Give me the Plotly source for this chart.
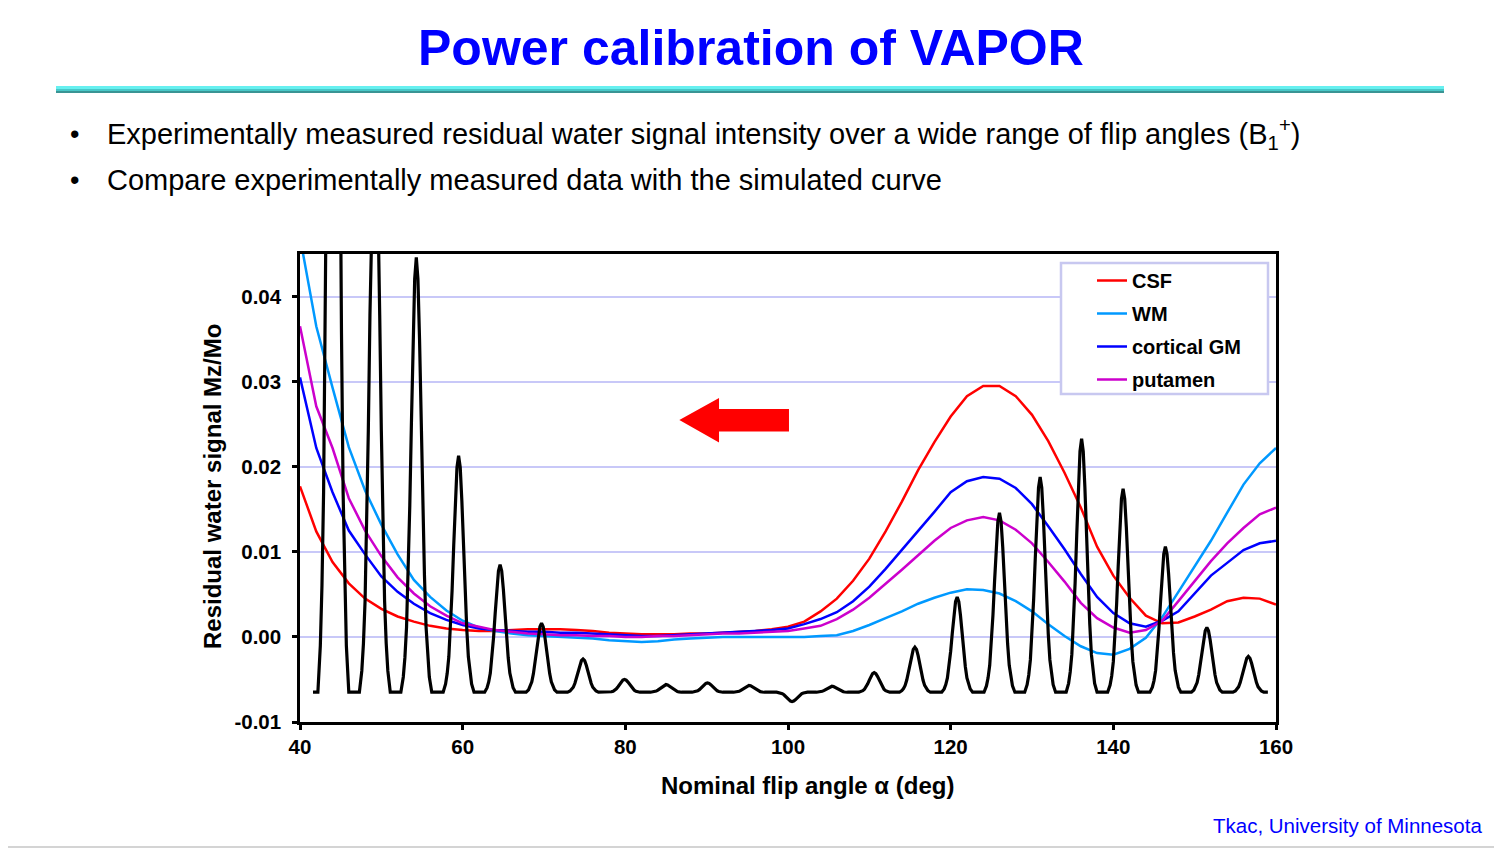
import plotly.graph_objects as go

# simulated residual water signal Mz/Mo, sampled every 2 deg of nominal flip angle
flip_angle = list(range(40, 162, 2))

csf = [0.0177, 0.0124, 0.0088, 0.0063, 0.0045, 0.0033, 0.0024, 0.0018, 0.0013, 0.0010,
       0.0008, 0.0007, 0.0007, 0.0008, 0.0009, 0.0009, 0.0009, 0.0008, 0.0007, 0.0005,
       0.0004, 0.0003, 0.0003, 0.0003, 0.0004, 0.0004, 0.0005, 0.0006, 0.0007, 0.0009,
       0.0012, 0.0018, 0.0030, 0.0045, 0.0066, 0.0092, 0.0124, 0.0159, 0.0196, 0.0229,
       0.0259, 0.0283, 0.0295, 0.0295, 0.0283, 0.0261, 0.0230, 0.0193, 0.0152, 0.0106,
       0.0072, 0.0046, 0.0025, 0.0016, 0.0017, 0.0024, 0.0032, 0.0042, 0.0046, 0.0045,
       0.0038]

wm = [0.0470, 0.0365, 0.0293, 0.0223, 0.0172, 0.0132, 0.0097, 0.0067, 0.0047, 0.0031,
      0.0019, 0.0011, 0.0007, 0.0004, 0.0002, 0.0001, 0.0000, -0.0001, -0.0002, -0.0004,
      -0.0005, -0.0006, -0.0005, -0.0003, -0.0002, -0.0001, 0.0000, 0.0000, 0.0000, 0.0000,
      0.0000, 0.0000, 0.0001, 0.0002, 0.0007, 0.0014, 0.0022, 0.0030, 0.0039, 0.0046,
      0.0052, 0.0056, 0.0055, 0.0051, 0.0042, 0.0030, 0.0015, 0.0001, -0.0011, -0.0019,
      -0.0021, -0.0014, -0.0001, 0.0023, 0.0053, 0.0083, 0.0113, 0.0146, 0.0179, 0.0204,
      0.0222]

cortical_gm = [0.0305, 0.0222, 0.0170, 0.0125, 0.0097, 0.0071, 0.0053, 0.0039, 0.0028, 0.0020,
               0.0014, 0.0010, 0.0008, 0.0007, 0.0006, 0.0006, 0.0005, 0.0005, 0.0004, 0.0003,
               0.0002, 0.0001, 0.0001, 0.0002, 0.0003, 0.0004, 0.0005, 0.0006, 0.0007, 0.0008,
               0.0010, 0.0015, 0.0021, 0.0029, 0.0042, 0.0059, 0.0080, 0.0102, 0.0124, 0.0147,
               0.0170, 0.0183, 0.0188, 0.0186, 0.0175, 0.0156, 0.0130, 0.0103, 0.0074, 0.0047,
               0.0028, 0.0016, 0.0012, 0.0019, 0.0030, 0.0051, 0.0072, 0.0087, 0.0102, 0.0110,
               0.0113]

putamen = [0.0365, 0.0271, 0.0222, 0.0163, 0.0125, 0.0095, 0.0070, 0.0051, 0.0036, 0.0025,
           0.0016, 0.0012, 0.0008, 0.0006, 0.0004, 0.0003, 0.0002, 0.0002, 0.0001, 0.0001,
           0.0000, 0.0000, 0.0001, 0.0001, 0.0002, 0.0003, 0.0004, 0.0004, 0.0005, 0.0006,
           0.0007, 0.0010, 0.0013, 0.0021, 0.0032, 0.0046, 0.0062, 0.0079, 0.0096, 0.0113,
           0.0128, 0.0137, 0.0141, 0.0137, 0.0126, 0.0110, 0.0088, 0.0065, 0.0040, 0.0022,
           0.0011, 0.0005, 0.0008, 0.0019, 0.0042, 0.0066, 0.0089, 0.0110, 0.0128, 0.0144,
           0.0152]

series_names = ["CSF", "WM", "cortical GM", "putamen"]
series_colors = ["#FF0000", "#0099FF", "#0000FF", "#CC00CC"]

# measured water peaks (black trace), one per flip angle step
peak_angle = [44.1, 49.2, 54.3, 59.5, 64.6, 69.7, 74.8, 79.9, 85.0, 90.1, 95.2, 100.5,
              105.4, 110.6, 115.6, 120.8, 126.0, 131.0, 136.1, 141.2, 146.4, 151.5, 156.6]
peak_top = [0.15, 0.065, 0.0446, 0.0213, 0.0085, 0.0016, -0.0026, -0.0050, -0.0056, -0.0054,
            -0.0057, -0.0076, -0.0058, -0.0042, -0.0012, 0.0047, 0.0146, 0.0188, 0.0233,
            0.0174, 0.0106, 0.0011, -0.0023]
spectrum_base = -0.0065
spectrum_start = 41.6
spectrum_end = 159.0
peak_offset = [0.0, 0.2, 0.4, 0.6, 0.8, 1.0, 1.2, 1.4, 1.6, 1.9]
peak_frac = [1.0, 0.95, 0.81, 0.62, 0.43, 0.27, 0.15, 0.08, 0.035, 0.0]

# red arrow (data coords)
arrow_x = [86.64, 91.52, 91.52, 100.12, 100.12, 91.52, 91.52]
arrow_y = [0.02549, 0.02808, 0.02679, 0.02679, 0.02415, 0.02415, 0.02286]

FONT = "Liberation Sans, Arial, sans-serif"
PAGE_W, PAGE_H = 1502, 849
BODY = 8  # the html body margin pushes the figure 8px right and down
L, R, T, B = 300, 1276, 254, 722  # plot area in page pixels


def px(x):
    return (x - L) / (R - L)


def py(y):
    return (B - y) / (B - T)


# build the black spectrum line from the peak list
spec_x = [spectrum_start]
spec_y = [spectrum_base]
for c, top in zip(peak_angle, peak_top):
    for off, f in zip(peak_offset[::-1], peak_frac[::-1]):
        spec_x.append(c - off)
        spec_y.append(spectrum_base + f * (top - spectrum_base))
    for off, f in zip(peak_offset[1:], peak_frac[1:]):
        spec_x.append(c + off)
        spec_y.append(spectrum_base + f * (top - spectrum_base))
spec_x.append(spectrum_end)
spec_y.append(spectrum_base)

fig = go.Figure()
for name, ys, col in zip(series_names, [csf, wm, cortical_gm, putamen], series_colors):
    fig.add_trace(go.Scatter(x=flip_angle, y=ys, mode="lines", name=name,
                             legendgroup=name, line=dict(color=col, width=2.5)))
fig.add_trace(go.Scatter(x=spec_x, y=spec_y, mode="lines", showlegend=False,
                         line=dict(color="black", width=3.2)))

shapes = []
# slide border (right and bottom edges)
shapes.append(dict(type="line", xref="paper", yref="paper", x0=px(1499), x1=px(1499),
                   y0=py(848), y1=py(0), line=dict(color="#D4D4D4", width=2)))
shapes.append(dict(type="line", xref="paper", yref="paper", x0=px(0), x1=px(1500),
                   y0=py(847), y1=py(847), line=dict(color="#D4D4D4", width=2)))
# teal rule under the title
for y0, y1, col in [(86, 89, "#66F0F0"), (89, 91, "#48C8C8"), (91, 93, "#3A9494")]:
    shapes.append(dict(type="rect", xref="paper", yref="paper", x0=px(56), x1=px(1444),
                       y0=py(y1), y1=py(y0), line=dict(width=0), fillcolor=col))
# legend box
shapes.append(dict(type="rect", xref="paper", yref="paper", x0=px(1061), x1=px(1268),
                   y0=py(394), y1=py(263), line=dict(color="#C8C8F0", width=2.5),
                   fillcolor="white", layer="above"))
# arrow
path = "M " + " L ".join(f"{x},{y}" for x, y in zip(arrow_x, arrow_y)) + " Z"
shapes.append(dict(type="path", xref="x", yref="y", path=path, fillcolor="#FF0000",
                   line=dict(width=0)))

annotations = [
    dict(text="<b>Power calibration of VAPOR</b>", x=px(751), y=py(48),
         font=dict(size=50, color="#0000FF")),
    dict(text="•", x=px(74), y=py(134), font=dict(size=27, color="black")),
    dict(text="•", x=px(74), y=py(180), font=dict(size=27, color="black")),
    dict(text="Experimentally measured residual water signal intensity over a wide range of flip angles (B<sub>1</sub><sup>+</sup>)",
         x=px(105), y=py(134), xanchor="left", font=dict(size=29, color="black")),
    dict(text="Compare experimentally measured data with the simulated curve",
         x=px(105), y=py(180), xanchor="left", font=dict(size=29, color="black")),
    dict(text="<b>Residual water signal Mz/Mo</b>", x=px(212), y=py(487), textangle=-90,
         font=dict(size=24, color="black")),
    dict(text="<b>Nominal flip angle α (deg)</b>", x=px(807), y=py(785),
         font=dict(size=24, color="black")),
    dict(text="Tkac, University of Minnesota", x=px(1484), y=py(825), xanchor="right",
         font=dict(size=20.5, color="#0000FF")),
]
for a in annotations:
    a.setdefault("xref", "paper")
    a.setdefault("yref", "paper")
    a.setdefault("xanchor", "center")
    a.setdefault("yanchor", "middle")
    a["showarrow"] = False

fig.update_layout(
    width=PAGE_W - BODY, height=PAGE_H - BODY,
    margin=dict(l=L - BODY, r=PAGE_W - R, t=T - BODY, b=PAGE_H - B),
    paper_bgcolor="white", plot_bgcolor="white",
    font=dict(family=FONT, color="black"),
    showlegend=True,
    legend=dict(x=px(1092), y=py(261), xanchor="left", yanchor="top",
                bgcolor="rgba(0,0,0,0)", borderwidth=0, tracegroupgap=4,
                traceorder="grouped",
                font=dict(size=20, color="black", weight="bold")),
    shapes=shapes,
    annotations=annotations,
    xaxis=dict(range=[40, 160], tickvals=[40, 60, 80, 100, 120, 140, 160],
               showline=True, mirror=True, linecolor="black", linewidth=2.5,
               ticks="outside", ticklen=5, tickwidth=2.5, tickcolor="black",
               showgrid=False, zeroline=False,
               tickfont=dict(size=20.5, color="black", weight="bold")),
    yaxis=dict(range=[-0.01, 0.045], tickvals=[-0.01, 0.0, 0.01, 0.02, 0.03, 0.04],
               ticktext=["-0.01", "0.00", "0.01", "0.02", "0.03", "0.04"],
               showline=True, mirror=True, linecolor="black", linewidth=2.5,
               ticks="outside", ticklen=5, tickwidth=2.5, tickcolor="black",
               ticklabelstandoff=7,
               showgrid=True, gridcolor="#C8C8F8", gridwidth=1.5, zeroline=False,
               tickfont=dict(size=20.5, color="black", weight="bold")),
)

fig.write_html("out.html")
